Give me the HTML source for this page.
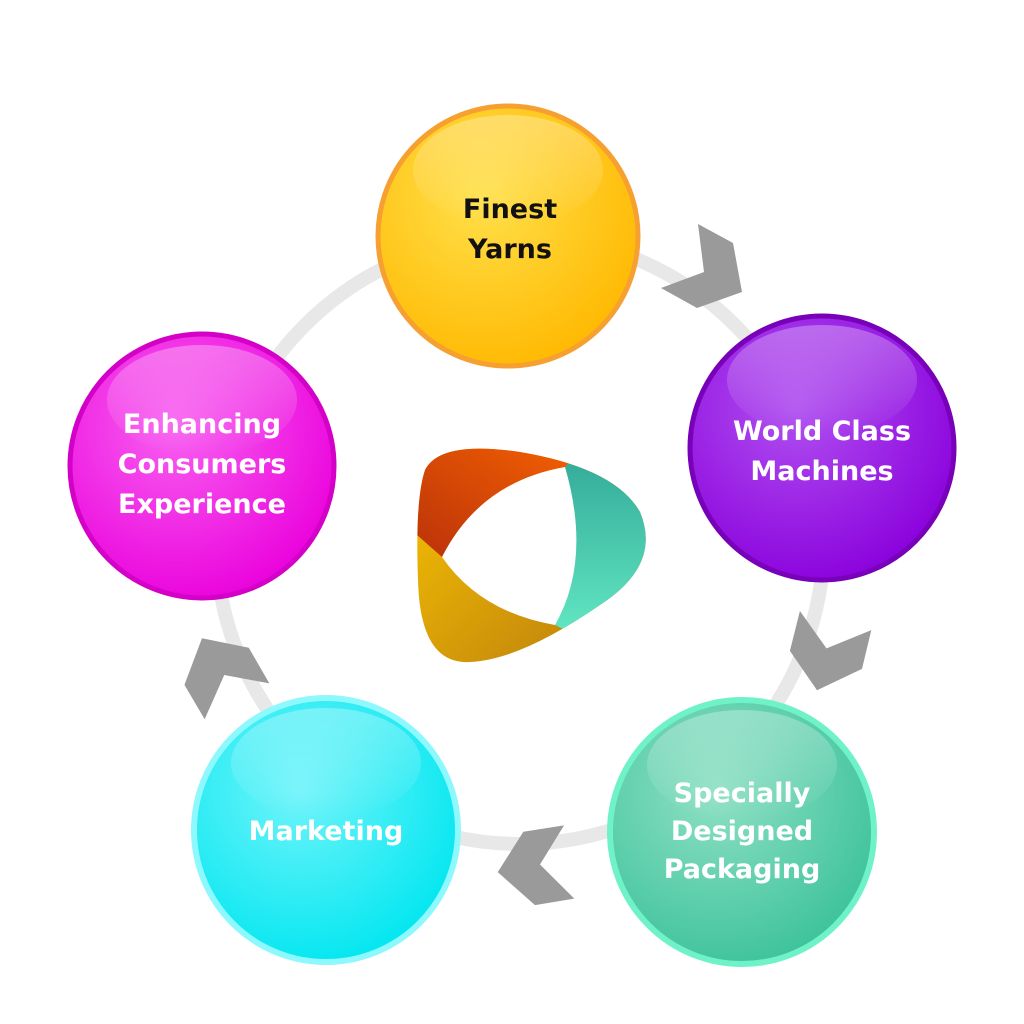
<!DOCTYPE html>
<html><head><meta charset="utf-8"><style>
html,body{margin:0;padding:0;background:#fff;}
svg{display:block}
text{font-family:"DejaVu Sans","Liberation Sans",sans-serif;font-weight:bold;font-size:27px;text-anchor:middle;}
</style></head><body>
<svg width="1024" height="1024" viewBox="0 0 1024 1024" xmlns="http://www.w3.org/2000/svg">
<defs>
<radialGradient id="gy" cx="40%" cy="35%" r="70%"><stop offset="0" stop-color="#ffe04a"/><stop offset="1" stop-color="#ffb800"/></radialGradient>
<radialGradient id="gp" cx="40%" cy="35%" r="70%"><stop offset="0" stop-color="#b050f0"/><stop offset="1" stop-color="#8a00dc"/></radialGradient>
<radialGradient id="gt" cx="40%" cy="35%" r="70%"><stop offset="0" stop-color="#8ee0c4"/><stop offset="1" stop-color="#3cc29a"/></radialGradient>
<radialGradient id="gc" cx="40%" cy="35%" r="70%"><stop offset="0" stop-color="#70f4fa"/><stop offset="1" stop-color="#00e6f0"/></radialGradient>
<radialGradient id="gm" cx="40%" cy="35%" r="70%"><stop offset="0" stop-color="#f860f0"/><stop offset="1" stop-color="#ea00dc"/></radialGradient>
<linearGradient id="gl" x1="0" y1="0" x2="0" y2="1"><stop offset="0" stop-color="#fff" stop-opacity="0.3"/><stop offset="1" stop-color="#fff" stop-opacity="0"/></linearGradient>
<linearGradient id="lo" x1="0" y1="1" x2="1" y2="0"><stop offset="0" stop-color="#b8300a"/><stop offset="1" stop-color="#ff6a00"/></linearGradient>
<linearGradient id="lt" x1="0" y1="0" x2="0" y2="1"><stop offset="0" stop-color="#2a9e90"/><stop offset="1" stop-color="#70fad0"/></linearGradient>
<linearGradient id="ly" x1="0" y1="0" x2="1" y2="1"><stop offset="0" stop-color="#ffcc00"/><stop offset="1" stop-color="#b07010"/></linearGradient>
<clipPath id="lc"><path d="M425,470 Q440,440 520,452 Q615,468 640,512 Q662,565 600,605 Q520,660 470,662 Q420,665 418,580 Q415,500 425,470 Z"/></clipPath>
<polygon id="chev" points="698,224 733,243 742,292 697,308 661,288 704,272" fill="#9a9a9a"/>
</defs>
<circle cx="520" cy="540" r="304" fill="none" stroke="#e8e8e8" stroke-width="14"/>
<use href="#chev"/>
<use href="#chev" transform="rotate(75 520 540)"/>
<use href="#chev" transform="rotate(142 520 540)"/>
<use href="#chev" transform="rotate(211 520 540)"/>

<g clip-path="url(#lc)">
<rect x="400" y="420" width="280" height="260" fill="url(#ly)"/>
<polygon points="400,420 610,420 565,467 442,557 400,520" fill="url(#lo)"/>
<polygon points="565,467 610,420 690,420 690,690 555,625" fill="url(#lt)"/>
</g>
<path d="M442,557 Q480,482 565,467 Q592,560 555,625 Q480,612 442,557 Z" fill="#fff"/>

<g>
<circle cx="508" cy="236" r="130" fill="url(#gy)" stroke="#f5a030" stroke-width="5"/>
<ellipse cx="508" cy="170" rx="95" ry="55" fill="url(#gl)"/>
<text x="510" y="218" fill="#111">Finest</text><text x="510" y="258" fill="#111">Yarns</text>
</g>
<g>
<circle cx="822" cy="448" r="132" fill="url(#gp)" stroke="#7800b8" stroke-width="5"/>
<ellipse cx="822" cy="380" rx="95" ry="55" fill="url(#gl)"/>
<text x="822" y="440" fill="#fff">World Class</text><text x="822" y="480" fill="#fff">Machines</text>
</g>
<g>
<circle cx="742" cy="832" r="132" fill="url(#gt)" stroke="#6ff2c8" stroke-width="6"/>
<ellipse cx="742" cy="765" rx="95" ry="55" fill="url(#gl)"/>
<text x="742" y="802" fill="#fff">Specially</text><text x="742" y="840" fill="#fff">Designed</text><text x="742" y="878" fill="#fff">Packaging</text>
</g>
<g>
<circle cx="326" cy="830" r="132" fill="url(#gc)" stroke="#8ef8ff" stroke-width="6"/>
<ellipse cx="326" cy="763" rx="95" ry="55" fill="url(#gl)"/>
<text x="326" y="840" fill="#fff">Marketing</text>
</g>
<g>
<circle cx="202" cy="466" r="132" fill="url(#gm)" stroke="#d400c8" stroke-width="5"/>
<ellipse cx="202" cy="400" rx="95" ry="55" fill="url(#gl)"/>
<text x="202" y="433" fill="#fff">Enhancing</text><text x="202" y="473" fill="#fff">Consumers</text><text x="202" y="513" fill="#fff">Experience</text>
</g>
</svg>
</body></html>
